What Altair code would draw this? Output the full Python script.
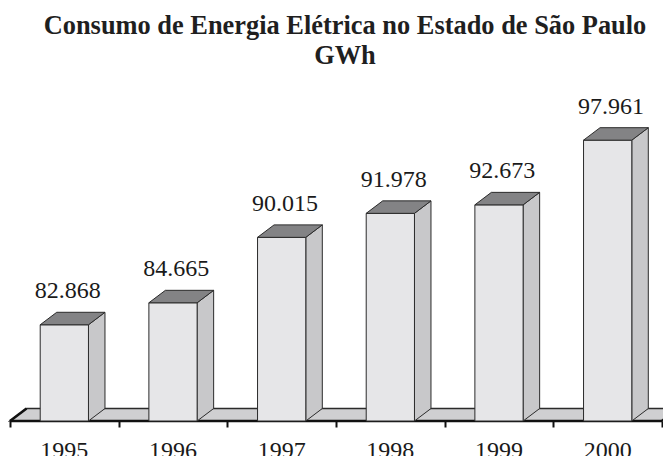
import altair as alt
import pandas as pd

years = ["1995", "1996", "1997", "1998", "1999", "2000"]
values = [82868, 84665, 90015, 91978, 92673, 97961]
title_lines = ["Consumo de Energia Elétrica no Estado de São Paulo", "GWh"]

BASE = 75000
YMAX = 101000
DX = 0.152   # depth offset (x units)
DY = 1020    # depth offset (y units)
HW = 0.222   # half width of bar front face

labels = [f"{v:,}".replace(",", ".") for v in values]
n = len(years)

front = pd.DataFrame({
    "year": years,
    "x1": [i - HW for i in range(n)],
    "x2": [i + HW for i in range(n)],
    "y1": [BASE] * n,
    "y2": values,
})

side_rows, top_rows = [], []
for i, (yr, v) in enumerate(zip(years, values)):
    side_rows.append({"year": yr, "xs": i + HW, "lo": BASE, "hi": v})
    side_rows.append({"year": yr, "xs": i + HW + DX, "lo": BASE + DY, "hi": v + DY})
    top_rows.append({"year": yr, "yt": v, "xl": i - HW, "xr": i + HW})
    top_rows.append({"year": yr, "yt": v + DY, "xl": i - HW + DX, "xr": i + HW + DX})
side = pd.DataFrame(side_rows)
top = pd.DataFrame(top_rows)

floor = pd.DataFrame({
    "yf": [BASE, BASE + DY],
    "xl": [-0.5, -0.5 + DX],
    "xr": [n - 0.5, n - 0.5 + DX],
})
edges = pd.DataFrame({
    "xa": [-0.5, -0.5, n - 0.5],
    "xb": [n - 0.5, -0.5 + DX, n - 0.5 + DX],
    "ya": [BASE, BASE, BASE],
    "yb": [BASE, BASE + DY, BASE + DY],
})

text_df = pd.DataFrame({
    "year": years,
    "xi": list(range(n)),
    "xlab": [i + DX / 5 for i in range(n)],
    "ytop": [v + DY for v in values],
    "label": labels,
    "base": [BASE] * n,
})

xs = alt.Scale(domain=[-0.5, n - 0.5], nice=False, zero=False)
ys = alt.Scale(domain=[BASE, YMAX], nice=False, zero=False)
xaxis = alt.Axis(values=[i - 0.5 for i in range(n + 1)], labels=False, domain=False,
                 grid=False, ticks=True, tickSize=6, tickWidth=2, tickColor="#111",
                 title=None)

OUT = "#2b2b2b"
FONT = "Liberation Serif"

floor_l = alt.Chart(floor).mark_area(orient="horizontal", fill="#cfcfd1", stroke=OUT,
                                      strokeWidth=1.5).encode(
    y=alt.Y("yf:Q", scale=ys, axis=None),
    x=alt.X("xl:Q", scale=xs, axis=xaxis),
    x2="xr:Q",
)
edge_l = alt.Chart(edges).mark_rule(color="#111", strokeWidth=2.6).encode(
    x=alt.X("xa:Q", scale=xs, axis=xaxis), x2="xb:Q",
    y=alt.Y("ya:Q", scale=ys, axis=None), y2="yb:Q",
)
side_l = alt.Chart(side).mark_area(orient="vertical", fill="#c8c8ca", stroke=OUT,
                                    strokeWidth=1).encode(
    x=alt.X("xs:Q", scale=xs, axis=xaxis),
    y=alt.Y("lo:Q", scale=ys, axis=None),
    y2="hi:Q",
    detail="year:N",
)
front_l = alt.Chart(front).mark_rect(fill="#e6e6e8", stroke=OUT, strokeWidth=1).encode(
    x=alt.X("x1:Q", scale=xs, axis=xaxis), x2="x2:Q",
    y=alt.Y("y1:Q", scale=ys, axis=None), y2="y2:Q",
)
top_l = alt.Chart(top).mark_area(orient="horizontal", fill="#838385", stroke=OUT,
                                  strokeWidth=1).encode(
    y=alt.Y("yt:Q", scale=ys, axis=None),
    x=alt.X("xl:Q", scale=xs, axis=xaxis),
    x2="xr:Q",
    detail="year:N",
)
val_l = alt.Chart(text_df).mark_text(font=FONT, fontSize=24, color="#1a1a1a",
                                      baseline="alphabetic", dy=-14).encode(
    x=alt.X("xlab:Q", scale=xs, axis=xaxis),
    y=alt.Y("ytop:Q", scale=ys, axis=None),
    text="label:N",
)
year_l = alt.Chart(text_df).mark_text(font=FONT, fontSize=24, color="#1a1a1a",
                                       baseline="top", dy=18).encode(
    x=alt.X("xi:Q", scale=xs, axis=xaxis),
    y=alt.Y("base:Q", scale=ys, axis=None),
    text="year:N",
)

chart = alt.layer(floor_l, edge_l, side_l, front_l, top_l, val_l, year_l).properties(
    width=652,
    height=318,
    autosize=alt.AutoSizeParams(type="none"),
    padding={"left": 2, "top": 95, "right": 1, "bottom": 35},
    title=alt.TitleParams(text=title_lines, font=FONT, fontSize=26.4, fontWeight="bold",
                          color="#1f1f1f", lineHeight=30, anchor="middle", frame="group",
                          offset=25, dx=9),
).configure_view(stroke=None).configure_axis(grid=False)

chart.save("out.html", embed_options={"renderer": "svg", "actions": False})
